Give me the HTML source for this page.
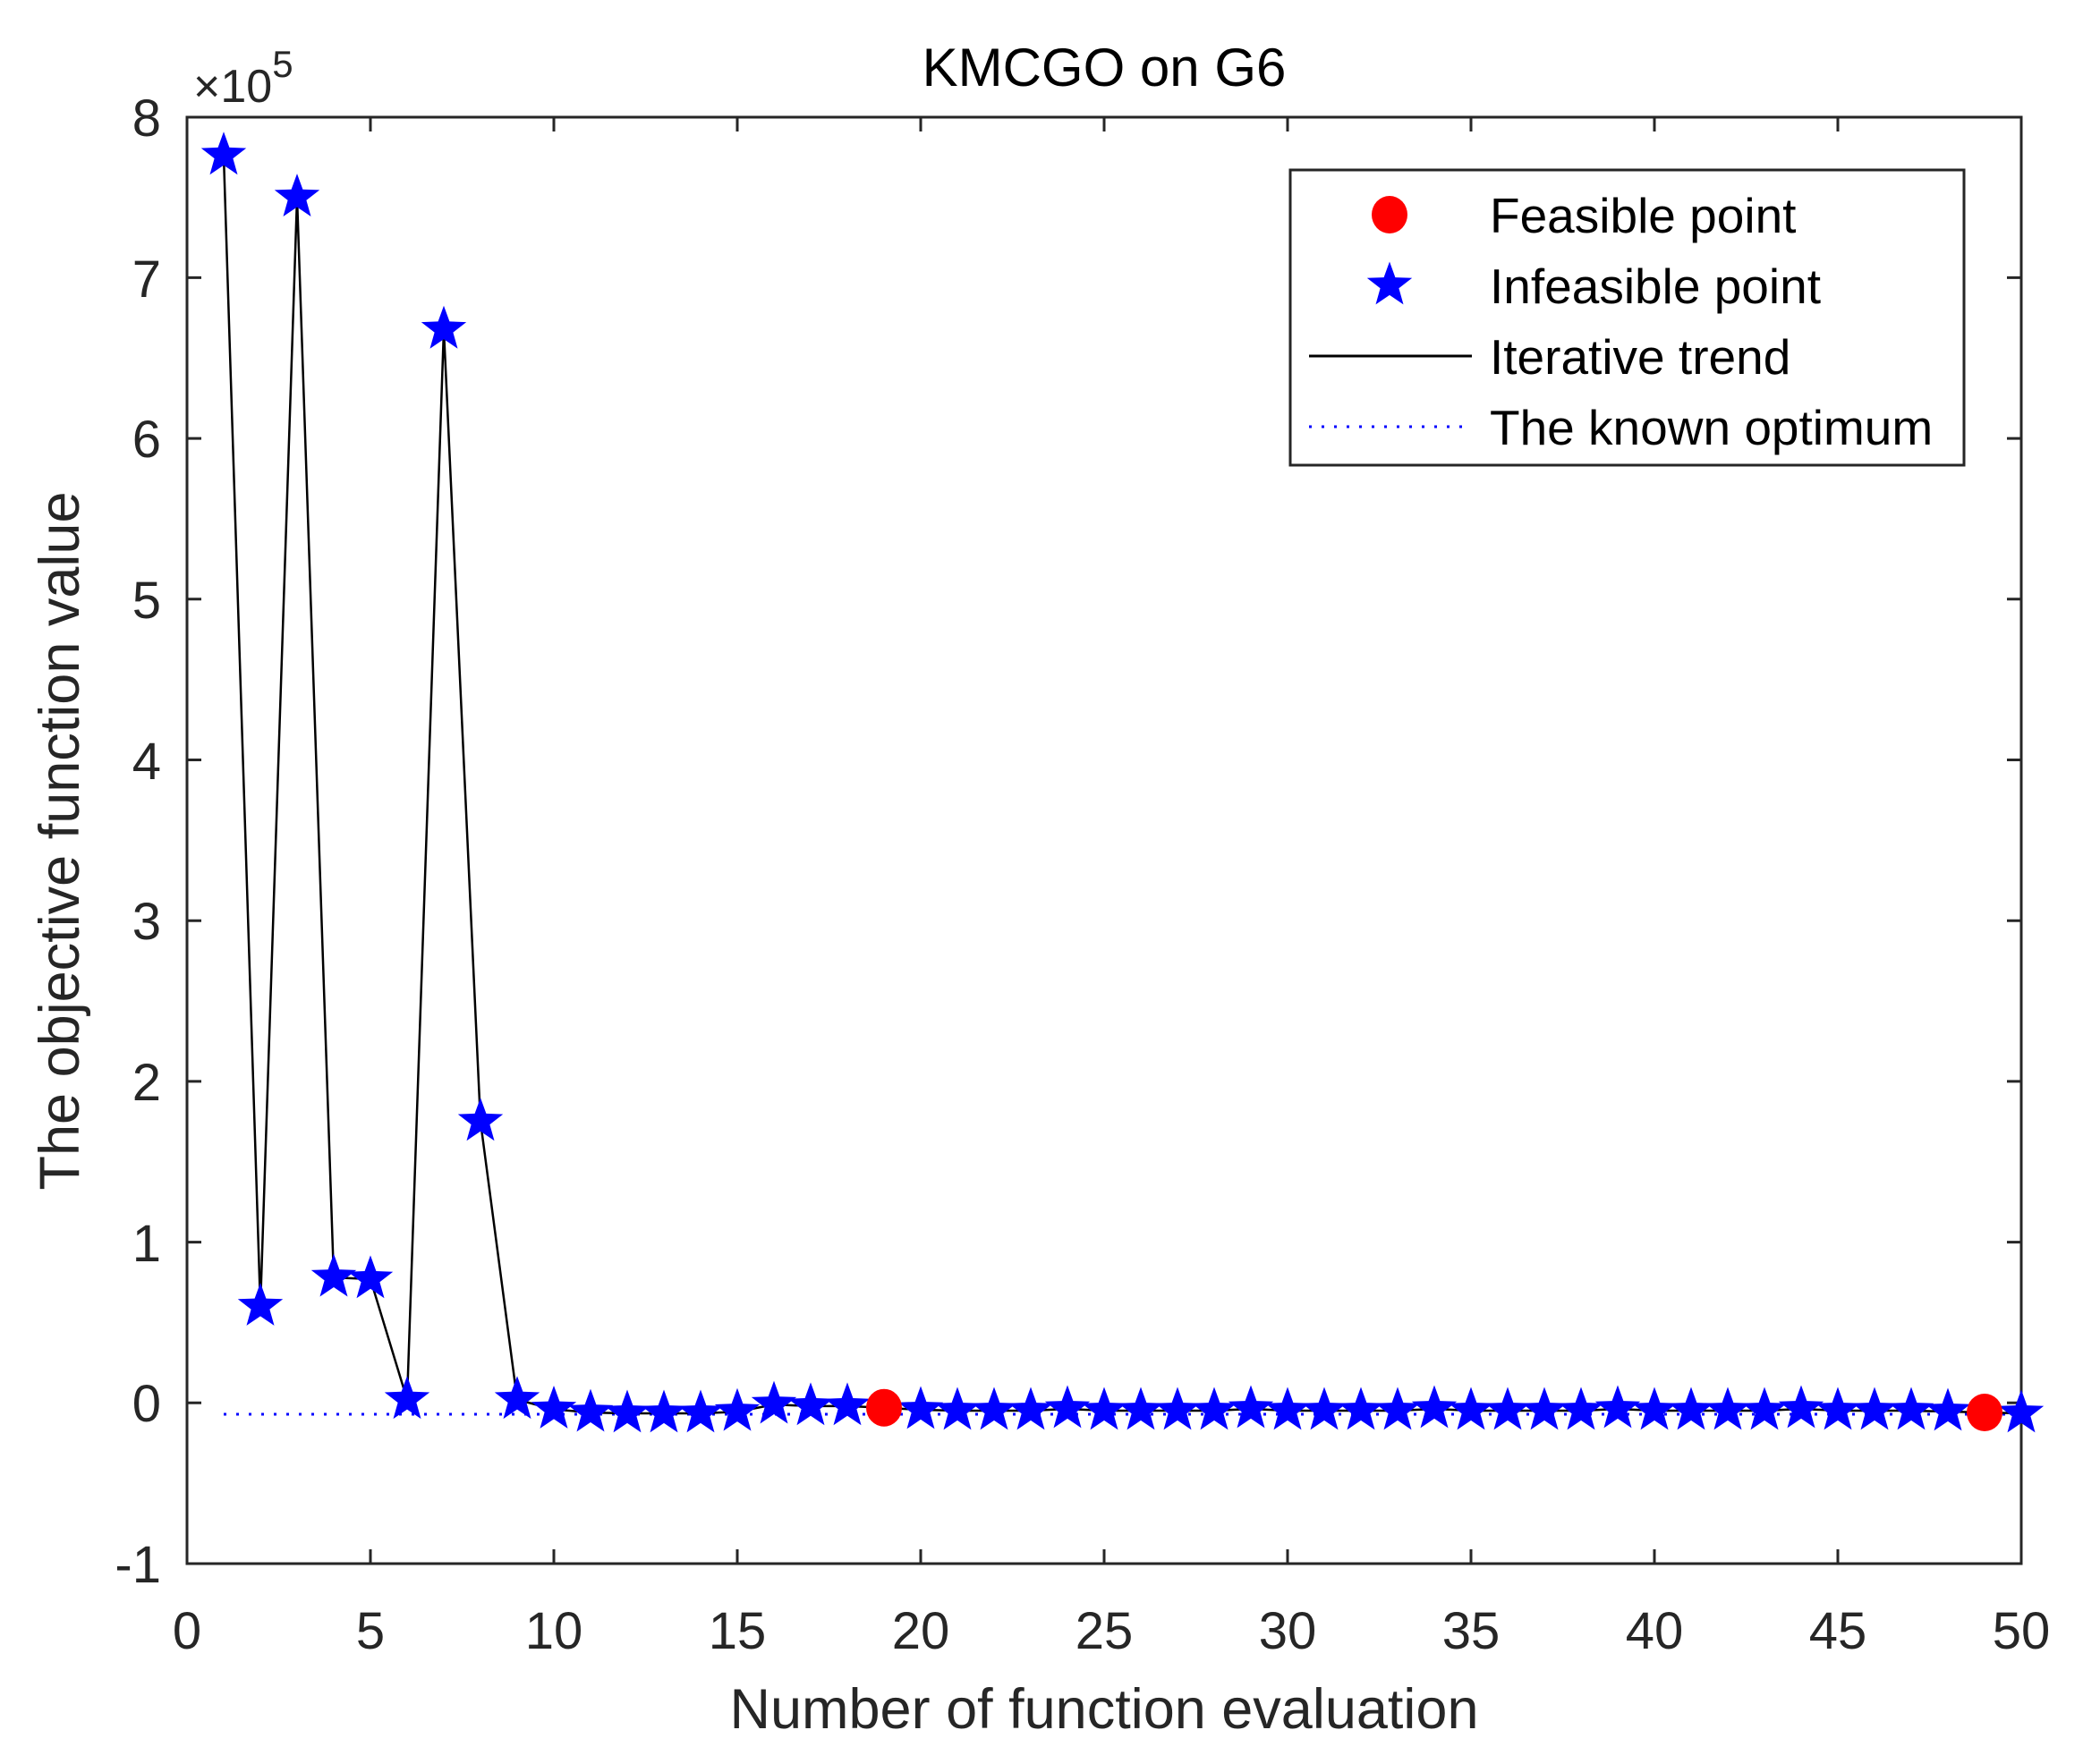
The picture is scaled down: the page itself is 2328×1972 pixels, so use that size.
<!DOCTYPE html>
<html><head><meta charset="utf-8"><style>
html,body{margin:0;padding:0;background:#fff;}
svg{display:block;font-family:"Liberation Sans",Arial,sans-serif;}
</style></head><body>
<svg width="2328" height="1972" viewBox="0 0 2328 1972" xmlns="http://www.w3.org/2000/svg">
<defs>
<path id="st" d="M0,-26.5 L6.4,-8.9 25.2,-8.2 10.4,3.3 15.5,21.4 0,10.9 -15.5,21.4 -10.4,3.3 -25.2,-8.2 -6.4,-8.9Z" fill="#0000ff"/>
</defs>
<rect width="2328" height="1972" fill="#fff"/>
<text x="1234" y="96" font-size="60" text-anchor="middle" fill="#000">KMCGO on G6</text>
<g stroke="#262626" stroke-width="3" fill="none">
<path d="M209,1748v-16M414,1748v-16M619,1748v-16M824,1748v-16M1029,1748v-16M1234,1748v-16M1439,1748v-16M1644,1748v-16M1849,1748v-16M2054,1748v-16M2259,1748v-16
M209,131v16M414,131v16M619,131v16M824,131v16M1029,131v16M1234,131v16M1439,131v16M1644,131v16M1849,131v16M2054,131v16M2259,131v16
M209,1568.3h16M209,1388.6h16M209,1208.9h16M209,1029.2h16M209,849.5h16M209,669.8h16M209,490.1h16M209,310.4h16
M2259,1568.3h-16M2259,1388.6h-16M2259,1208.9h-16M2259,1029.2h-16M2259,849.5h-16M2259,669.8h-16M2259,490.1h-16M2259,310.4h-16"/>
<rect x="209" y="131" width="2050" height="1617"/>
</g>
<g font-size="58" fill="#262626" text-anchor="middle">
<text x="209" y="1843">0</text><text x="414" y="1843">5</text><text x="619" y="1843">10</text><text x="824" y="1843">15</text><text x="1029" y="1843">20</text><text x="1234" y="1843">25</text><text x="1439" y="1843">30</text><text x="1644" y="1843">35</text><text x="1849" y="1843">40</text><text x="2054" y="1843">45</text><text x="2259" y="1843">50</text>
</g>
<g font-size="58" fill="#262626" text-anchor="end">
<text x="180" y="1769">-1</text><text x="180" y="1589">0</text><text x="180" y="1410">1</text><text x="180" y="1230">2</text><text x="180" y="1050">3</text><text x="180" y="871">4</text><text x="180" y="691">5</text><text x="180" y="511">6</text><text x="180" y="332">7</text><text x="180" y="152">8</text>
</g>
<text x="216" y="114" font-size="52" fill="#262626">×10<tspan font-size="42" dy="-28">5</tspan></text>
<text x="1234" y="1932" font-size="63" fill="#262626" text-anchor="middle">Number of function evaluation</text>
<text transform="translate(88,940) rotate(-90)" font-size="63" fill="#262626" text-anchor="middle">The objective function value</text>
<line x1="250" y1="1581" x2="2259" y2="1581" stroke="#0000ff" stroke-width="3" stroke-dasharray="3,11"/>
<polyline fill="none" stroke="#000" stroke-width="2.5" points="250,173.8 291,1460.5 332,220.6 373,1428.1 414,1429.9 455,1564.7 496,368.3 537,1253.8 578,1564.7 619,1575.5 660,1579.1 701,1580 742,1580 783,1580 824,1578.2 865,1570.1 906,1571.9 947,1571.9 988,1573.7 1029,1576 1070,1577 1111,1577 1152,1577 1193,1575 1234,1577 1275,1577 1316,1577 1357,1577 1398,1575 1439,1577 1480,1577 1521,1577 1562,1577 1603,1575 1644,1577 1685,1577 1726,1577 1767,1577 1808,1575 1849,1577 1890,1577 1931,1577 1972,1577 2013,1575 2054,1577 2095,1577 2136,1577 2177,1578 2218,1579 2259,1580"/>
<use href="#st" x="250" y="173.8"/><use href="#st" x="291" y="1460.5"/><use href="#st" x="332" y="220.6"/><use href="#st" x="373" y="1428.1"/><use href="#st" x="414" y="1429.9"/><use href="#st" x="455" y="1564.7"/><use href="#st" x="496" y="368.3"/><use href="#st" x="537" y="1253.8"/><use href="#st" x="578" y="1564.7"/><use href="#st" x="619" y="1575.5"/><use href="#st" x="660" y="1579.1"/><use href="#st" x="701" y="1580"/><use href="#st" x="742" y="1580"/><use href="#st" x="783" y="1580"/><use href="#st" x="824" y="1578.2"/><use href="#st" x="865" y="1570.1"/><use href="#st" x="906" y="1571.9"/><use href="#st" x="947" y="1571.9"/>
<use href="#st" x="1029" y="1576"/><use href="#st" x="1070" y="1577"/><use href="#st" x="1111" y="1577"/><use href="#st" x="1152" y="1577"/><use href="#st" x="1193" y="1575"/><use href="#st" x="1234" y="1577"/><use href="#st" x="1275" y="1577"/><use href="#st" x="1316" y="1577"/><use href="#st" x="1357" y="1577"/><use href="#st" x="1398" y="1575"/><use href="#st" x="1439" y="1577"/><use href="#st" x="1480" y="1577"/><use href="#st" x="1521" y="1577"/><use href="#st" x="1562" y="1577"/><use href="#st" x="1603" y="1575"/><use href="#st" x="1644" y="1577"/><use href="#st" x="1685" y="1577"/><use href="#st" x="1726" y="1577"/><use href="#st" x="1767" y="1577"/><use href="#st" x="1808" y="1575"/><use href="#st" x="1849" y="1577"/><use href="#st" x="1890" y="1577"/><use href="#st" x="1931" y="1577"/><use href="#st" x="1972" y="1577"/><use href="#st" x="2013" y="1575"/><use href="#st" x="2054" y="1577"/><use href="#st" x="2095" y="1577"/><use href="#st" x="2136" y="1577"/><use href="#st" x="2177" y="1578"/><use href="#st" x="2259" y="1580"/>
<ellipse cx="988" cy="1573.7" rx="20" ry="21" fill="#ff0000"/>
<ellipse cx="2218" cy="1579" rx="20" ry="21" fill="#ff0000"/>
<rect x="1442" y="190" width="753" height="330" fill="#fff" stroke="#262626" stroke-width="3"/>
<ellipse cx="1553" cy="240" rx="20" ry="21" fill="#ff0000"/>
<use href="#st" x="1553" y="319"/>
<line x1="1463" y1="398" x2="1645" y2="398" stroke="#000" stroke-width="3"/>
<line x1="1463" y1="477" x2="1645" y2="477" stroke="#0000ff" stroke-width="3" stroke-dasharray="3,11"/>
<g font-size="55" fill="#000">
<text x="1665" y="260">Feasible point</text>
<text x="1665" y="339">Infeasible point</text>
<text x="1665" y="418">Iterative trend</text>
<text x="1665" y="497">The known optimum</text>
</g>
</svg>
</body></html>
